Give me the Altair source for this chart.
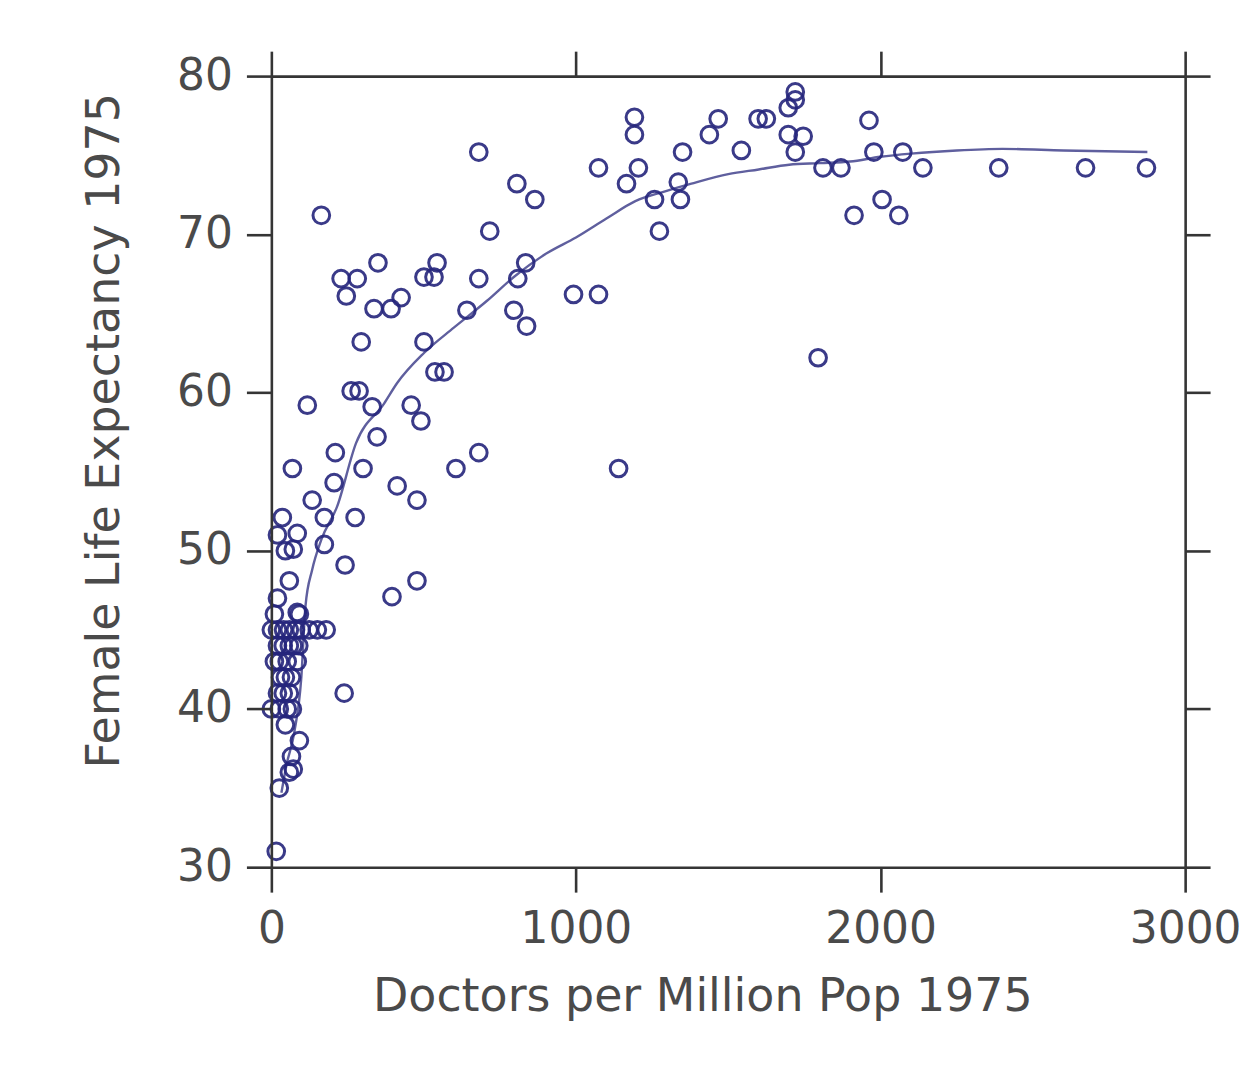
import altair as alt
import pandas as pd

# ---- data ----
doctors = [
    1720, 1720, 1697, 1598, 1625, 1467, 1192, 1192, 1438, 1697, 1746, 1962, 1543, 1350, 1720,
    1978, 2073, 681, 1074, 1205, 1166, 1336, 1811, 1870, 2139, 2388, 2673, 2873, 806, 865,
    1258, 1343, 2005, 2060, 1913, 1274, 717, 164, 681, 809, 835, 796, 838, 642, 992,
    1074, 1795, 1140, 681, 606,
    350, 229, 282, 246, 544, 501, 534, 426, 337, 393, 295, 501, 262, 288, 331,
    459, 491, 537, 567, 347, 118, 210, 301, 413, 206, 478, 69, 134, 174, 275,
    36, 85, 72, 174, 242, 396, 478, 59, 239, 85,
    0, 20, 40, 59, 79, 98, 124, 151, 180,
    20, 39, 59, 72, 90,
    10, 26, 52, 85,
    30, 46, 66,
    20, 39, 59,
    0, 26, 52, 69,
    46, 92, 66, 59, 72, 26, 16, 10, 92, 20, 20, 46,
]
life = [
    79.0, 78.5, 78.0, 77.3, 77.3, 77.3, 77.4, 76.3, 76.3, 76.3, 76.2, 77.2, 75.3, 75.2, 75.2,
    75.2, 75.2, 75.2, 74.2, 74.2, 73.2, 73.3, 74.2, 74.2, 74.2, 74.2, 74.2, 74.2, 73.2, 72.2,
    72.2, 72.2, 72.2, 71.2, 71.2, 70.2, 70.2, 71.2, 67.2, 67.2, 68.2, 65.2, 64.2, 65.2, 66.2,
    66.2, 62.2, 55.2, 56.2, 55.2,
    68.2, 67.2, 67.2, 66.1, 68.2, 67.3, 67.3, 66.0, 65.3, 65.3, 63.2, 63.2, 60.1, 60.1, 59.1,
    59.2, 58.2, 61.3, 61.3, 57.2, 59.2, 56.2, 55.2, 54.1, 54.3, 53.2, 55.2, 53.2, 52.1, 52.1,
    52.1, 51.1, 50.1, 50.4, 49.1, 47.1, 48.1, 48.1, 41.0, 46.1,
    45, 45, 45, 45, 45, 45, 45, 45, 45,
    44, 44, 44, 44, 44,
    43, 43, 43, 43,
    42, 42, 42,
    41, 41, 41,
    40, 40, 40, 40,
    39, 38, 37, 36, 36.2, 35, 31, 46, 46, 47, 51, 50,
]

fit_x = [33, 49, 75, 98, 112, 134, 164, 216, 278, 370, 413, 501, 599, 708, 796, 904, 1000,
         1100, 1195, 1290, 1379, 1500, 1600, 1700, 1800, 1900, 2000, 2100, 2250, 2400, 2600, 2876]
fit_y = [34.7, 36.4, 38.5, 41.9, 46.5, 48.8, 50.7, 52.8, 56.8, 59.3, 60.6, 62.5, 64.1, 65.8,
         67.3, 68.8, 69.8, 71.0, 72.1, 72.7, 73.2, 73.8, 74.1, 74.4, 74.5, 74.6, 74.9, 75.1,
         75.3, 75.4, 75.3, 75.2]

x_ticks = [0, 1000, 2000, 3000]
y_ticks = [30, 40, 50, 60, 70, 80]

pts = pd.DataFrame({"doctors": doctors, "life": life})
fit = pd.DataFrame({"doctors": fit_x, "life": fit_y})

xscale = alt.Scale(domain=[0, 3000], nice=False, zero=False)
yscale = alt.Scale(domain=[30, 80], nice=False, zero=False)

FONT = "DejaVu Sans"
TXT = "#4a4a4a"
LINE = "#353535"

line = alt.Chart(fit).mark_line(color="#5f5f9e", strokeWidth=2.4, interpolate="monotone").encode(
    x=alt.X("doctors:Q", scale=xscale,
            axis=alt.Axis(orient="top", values=x_ticks, labels=False, title="", zindex=1)),
    y=alt.Y("life:Q", scale=yscale,
            axis=alt.Axis(orient="right", values=y_ticks, labels=False, title="", zindex=1)),
)

points = alt.Chart(pts).mark_point(
    shape="circle", filled=False, size=280, strokeWidth=3, color="#25257c", opacity=0.9
).encode(
    x=alt.X("doctors:Q", scale=xscale,
            axis=alt.Axis(orient="bottom", values=x_ticks, format="d",
                          title="Doctors per Million Pop 1975",
                          titleX=432, titleY=130, titleBaseline="middle", titleAnchor="middle",
                          titleAlign="center", labelPadding=16, zindex=1)),
    y=alt.Y("life:Q", scale=yscale,
            axis=alt.Axis(orient="left", values=y_ticks, format="d",
                          title="Female Life Expectancy 1975",
                          titleX=-167, titleY=355, titleAngle=270, titleBaseline="middle",
                          titleAlign="center", labelPadding=14, zindex=1)),
)

chart = (
    alt.layer(line, points)
    .resolve_axis(x="independent", y="independent")
    .properties(
        width=916, height=793,
        autosize=alt.AutoSizeParams(type="none"),
        padding={"left": 264, "top": 67, "right": 58, "bottom": 185},
        background="white",
    )
    .configure_view(strokeWidth=0)
    .configure_axis(
        grid=False,
        domainColor=LINE, domainWidth=2.6, tickColor=LINE, tickWidth=2.6, tickSize=25,
        labelFont=FONT, labelFontSize=44, labelColor=TXT, labelFontWeight="normal",
        titleFont=FONT, titleFontSize=46, titleColor=TXT, titleFontWeight="normal",
        labelFlush=False, labelOverlap=False,
    )
)

chart.save("out.html", embed_options={"renderer": "svg", "actions": False})
